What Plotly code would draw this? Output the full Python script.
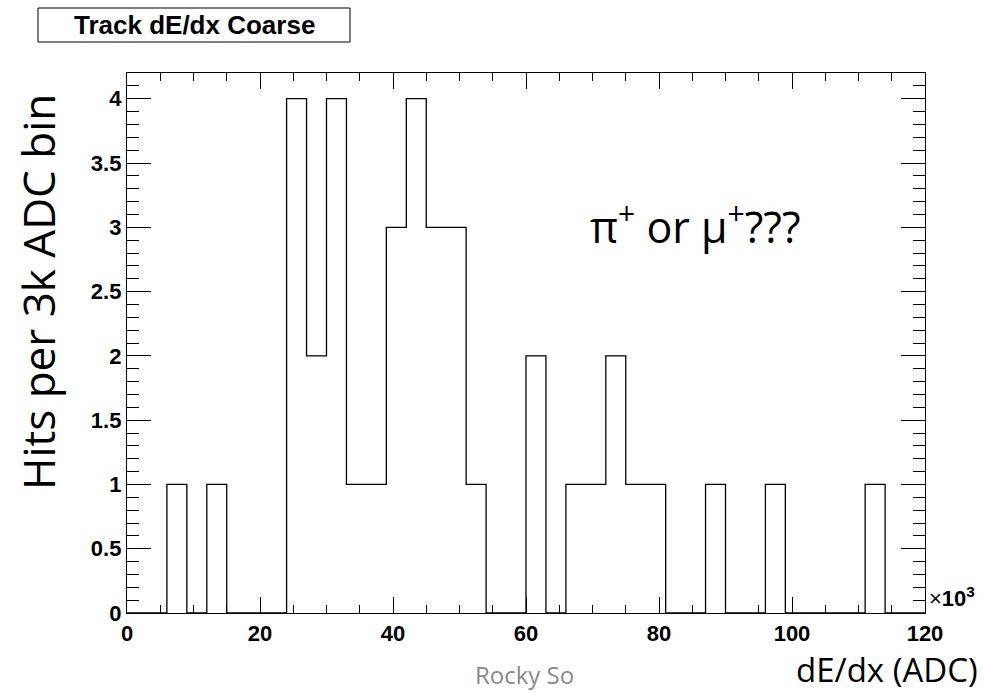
import plotly.graph_objects as go

# Histogram: 40 bins of 3k ADC from 0 to 120k (x in units of 10^3 ADC)
bin_edges = [3 * i for i in range(41)]
counts = [0, 0, 1, 0, 1, 0, 0, 0, 4, 2,
          4, 1, 1, 3, 4, 3, 3, 1, 0, 0,
          2, 0, 1, 1, 2, 1, 1, 0, 0, 1,
          0, 0, 1, 0, 0, 0, 0, 1, 0, 0]
x_tickvals = [0, 20, 40, 60, 80, 100, 120]
x_ticktext = ["0", "20", "40", "60", "80", "100", "120"]
y_tickvals = [0, 0.5, 1, 1.5, 2, 2.5, 3, 3.5, 4]
y_ticktext = ["0", "0.5", "1", "1.5", "2", "2.5", "3", "3.5", "4"]

W, H = 982, 693
L, R, T, B = 127, 925, 73, 613  # plot frame in pixels

def px(x):
    return (x - L) / (R - L)

def py(y):
    return (B - y) / (B - T)

fig = go.Figure()
fig.add_trace(go.Scatter(
    x=bin_edges, y=counts + [counts[-1]],
    mode="lines", line=dict(shape="hv", color="black", width=1.3),
    hoverinfo="skip", showlegend=False,
))

tickfont = dict(family="Liberation Sans, Arial, sans-serif", size=22, color="black", weight="bold")
fig.update_xaxes(
    range=[0, 120], tickvals=x_tickvals, ticktext=x_ticktext,
    ticks="inside", ticklen=16, tickwidth=1.2, tickcolor="black",
    minor=dict(dtick=5, ticks="inside", ticklen=8, tickwidth=1.2, tickcolor="black"),
    showline=True, linecolor="black", linewidth=1.3, mirror="allticks",
    showgrid=False, zeroline=False, tickfont=tickfont,
)
fig.update_yaxes(
    range=[0, 4.2], tickvals=y_tickvals, ticktext=y_ticktext,
    ticks="inside", ticklen=24, tickwidth=1.2, tickcolor="black",
    minor=dict(dtick=0.1, ticks="inside", ticklen=12, tickwidth=1.2, tickcolor="black"),
    showline=True, linecolor="black", linewidth=1.3, mirror="allticks",
    showgrid=False, zeroline=False, tickfont=tickfont,
)

fig.add_shape(type="rect", xref="paper", yref="paper",
              x0=px(38), x1=px(350), y0=py(42), y1=py(8),
              line=dict(color="black", width=1), fillcolor="white")

annotations = [
    dict(text="<b>Track dE/dx Coarse</b>", x=px(194), y=py(25), xanchor="center", yanchor="middle",
         font=dict(family="Liberation Sans, Arial, sans-serif", size=26, color="black")),
    dict(text="Hits per 3k ADC bin", x=px(38), y=py(292), xanchor="center", yanchor="middle",
         textangle=-90, font=dict(family="Open Sans, sans-serif", size=44, color="black")),
    dict(text="dE/dx (ADC)", x=px(980), y=py(669), xanchor="right", yanchor="middle",
         font=dict(family="Open Sans, sans-serif", size=33, color="black")),
    dict(text="Rocky So", x=px(524), y=py(675), xanchor="center", yanchor="middle",
         font=dict(family="Open Sans, sans-serif", size=24, color="#8a8a8a")),
    dict(text="π<sup>+</sup> or μ<sup>+</sup>???", x=px(695), y=py(225), xanchor="center", yanchor="middle",
         font=dict(family="Open Sans, sans-serif", size=43, color="black")),
    dict(text="×<b>10<sup>3</sup></b>", x=px(927), y=py(597), xanchor="left", yanchor="middle",
         font=dict(family="Liberation Sans, Arial, sans-serif", size=22, color="black")),
]
for a in annotations:
    a.update(xref="paper", yref="paper", showarrow=False)
fig.update_layout(annotations=annotations)

fig.update_layout(
    width=W, height=H,
    margin=dict(l=L, r=W - R, t=T, b=H - B, pad=0),
    paper_bgcolor="white", plot_bgcolor="white",
    showlegend=False,
)
fig.write_html("out.html", config={"displayModeBar": False},
               post_script="document.body.style.margin='0';document.body.style.overflow='hidden';")
